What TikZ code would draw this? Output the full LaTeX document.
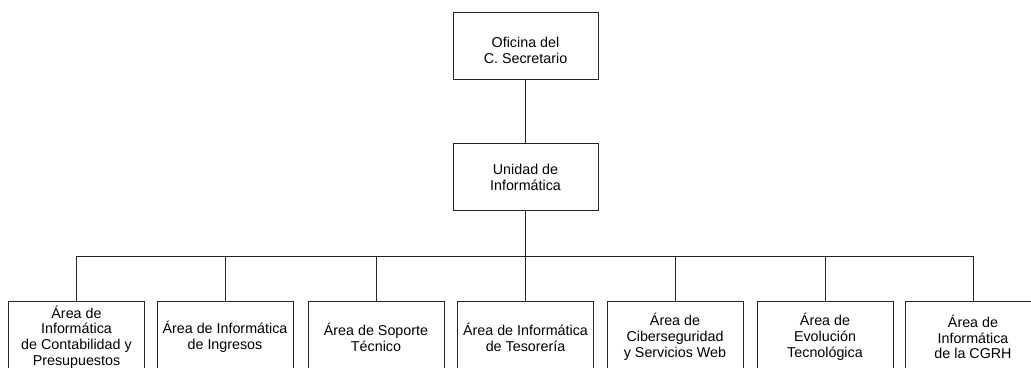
\documentclass[tikz,border=0pt]{standalone}
\usepackage{fontspec}
\setmainfont{Liberation Sans}
\begin{document}
\begin{tikzpicture}[x=1pt,y=-1pt,
  txt/.style={align=center, inner sep=0pt, font=\fontsize{14.3}{15.8}\selectfont},
  box/.style={draw=black!85, line width=0.9pt, fill=white, txt},
  topbox/.style={box, minimum width=145pt, minimum height=67pt},
  areabox/.style={box, minimum width=136pt, minimum height=72pt},
  conn/.style={draw=black!85, line width=0.9pt}]
\useasboundingbox (0,0) rectangle (1031,367);
\clip (0,0) rectangle (1031,367);
\node[topbox, label={[txt, yshift=-5pt]center:{Oficina del\\C. Secretario}}] (sec) at (525.5,45.5) {};
\node[topbox] (uni) at (525.5,177) {Unidad de\\Informática};
\node[areabox] (b1) at (76.5,337) {Área de\\Informática\\de Contabilidad y\\Presupuestos};
\node[areabox] (b2) at (225,337) {Área de Informática\\de Ingresos};
\node[areabox] (b3) at (376,337) {Área de Soporte\\Técnico};
\node[areabox] (b4) at (525.5,337) {Área de Informática\\de Tesorería};
\node[areabox] (b5) at (675,337) {Área de\\Ciberseguridad\\y Servicios Web};
\node[areabox] (b6) at (825,337) {Área de\\Evolución\\Tecnológica};
\node[areabox] (b7) at (973,337) {Área de\\Informática\\de la CGRH};
\coordinate (bus) at (525.5,256);
\draw[conn] (sec.south) -- (uni.north);
\draw[conn] (uni.south) -- (bus);
\draw[conn] (b1.north) -- (b1.north |- bus) -- (b7.north |- bus) -- (b7.north);
\foreach \b in {b2,b3,b4,b5,b6} {
  \draw[conn] (\b.north) -- (\b.north |- bus);
}
\end{tikzpicture}
\end{document}
